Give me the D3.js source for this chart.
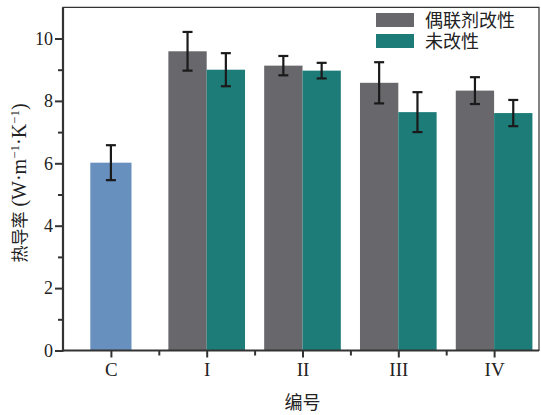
<!DOCTYPE html>
<html>
<head>
<meta charset="utf-8">
<script src="https://cdn.jsdelivr.net/npm/d3@7"></script>
<style>
  body { margin: 0; background: #fff; }
  text { font-family: "Liberation Serif", "Noto Sans CJK SC", serif; fill: #222; }
</style>
</head>
<body>
<svg id="chart" width="541" height="415"></svg>
<script>
// data
var categories = ['C', 'I', 'II', 'III', 'IV'];
var controlValue = [6.02];
var controlErr = [0.56];
var coupledValues = [null, 9.59, 9.13, 8.58, 8.33];
var coupledErr = [null, 0.62, 0.31, 0.66, 0.43];
var plainValues = [null, 9.0, 8.97, 7.64, 7.61];
var plainErr = [null, 0.53, 0.25, 0.64, 0.42];
var yTicks = [0, 2, 4, 6, 8, 10];
var yMinor = [1, 3, 5, 7, 9];
var seriesNames = ['偶联剂改性', '未改性'];

var svg = d3.select('#chart');
var W = 541, H = 415;
var colors = { control: '#6890bf', coupled: '#67676c', plain: '#1e7c78' };

var x = d3.scaleLinear().domain([-0.5, 4.5]).range([63, 542]);
var y = d3.scaleLinear().domain([0, 11]).range([350.5, 7.3]);
var bw = 0.4;

var g = svg.append('g');

// bars
var bars = [];
bars.push({ i: 0, v: controlValue[0], e: controlErr[0], x0: -0.215, x1: 0.215, c: colors.control });
for (var i = 1; i < categories.length; i++) {
    bars.push({ i: i, v: coupledValues[i], e: coupledErr[i], x0: -bw, x1: 0, c: colors.coupled });
    bars.push({ i: i, v: plainValues[i], e: plainErr[i], x0: 0, x1: bw, c: colors.plain });
}

g.selectAll('rect.bar').data(bars).enter().append('rect')
    .attr('class', 'bar')
    .attr('x', function (d) { return x(d.i + d.x0); })
    .attr('width', function (d) { return x(d.i + d.x1) - x(d.i + d.x0); })
    .attr('y', function (d) { return y(d.v); })
    .attr('height', function (d) { return y(0) - y(d.v); })
    .style('fill', function (d) { return d.c; });

// error bars
var eb = g.selectAll('g.err').data(bars).enter().append('g').attr('class', 'err')
    .attr('transform', function (d) { return 'translate(' + x(d.i + (d.x0 + d.x1) / 2) + ',0)'; });
eb.append('line')
    .attr('y1', function (d) { return y(d.v + d.e); })
    .attr('y2', function (d) { return y(d.v - d.e); })
    .style('stroke', '#1a1a1a').style('stroke-width', 2.2);
eb.append('line').attr('x1', -5).attr('x2', 5)
    .attr('y1', function (d) { return y(d.v + d.e); })
    .attr('y2', function (d) { return y(d.v + d.e); })
    .style('stroke', '#1a1a1a').style('stroke-width', 2.2);
eb.append('line').attr('x1', -5).attr('x2', 5)
    .attr('y1', function (d) { return y(d.v - d.e); })
    .attr('y2', function (d) { return y(d.v - d.e); })
    .style('stroke', '#1a1a1a').style('stroke-width', 2.2);

// frame
var fx0 = x(-0.5), fx1 = W - 2, fy0 = y(11), fy1 = y(0);
g.append('path')
    .attr('d', 'M' + fx0 + ',' + fy1 + 'V' + fy0 + 'H' + fx1 + 'V' + fy1 + 'Z')
    .style('fill', 'none').style('stroke', '#333').style('stroke-width', 1.2);
g.append('line').attr('x1', fx0).attr('x2', fx0).attr('y1', fy0).attr('y2', fy1 + 1)
    .style('stroke', '#333').style('stroke-width', 2.2);
g.append('line').attr('x1', fx0 - 1).attr('x2', fx1).attr('y1', fy1).attr('y2', fy1)
    .style('stroke', '#333').style('stroke-width', 2.2);

// y axis
var yAxis = d3.axisLeft(y).tickValues(yTicks).tickSize(8).tickPadding(2).tickFormat(d3.format('d'));
var ya = g.append('g').attr('transform', 'translate(' + fx0 + ',0)').call(yAxis);
ya.select('.domain').remove();
ya.selectAll('line').style('stroke', '#333').style('stroke-width', 2);
ya.selectAll('text').style('font-size', '18px').style('fill', '#222')
    .style('font-family', '"Liberation Serif", serif');
var yam = g.append('g').attr('transform', 'translate(' + fx0 + ',0)')
    .call(d3.axisLeft(y).tickValues(yMinor).tickSize(5).tickFormat(''));
yam.select('.domain').remove();
yam.selectAll('line').style('stroke', '#333').style('stroke-width', 2);

// x axis
var xa = g.append('g').attr('transform', 'translate(0,' + fy1 + ')')
    .call(d3.axisBottom(x).tickValues(d3.range(categories.length)).tickSize(7).tickPadding(5)
        .tickFormat(function (d) { return categories[d]; }));
xa.select('.domain').remove();
xa.selectAll('line').style('stroke', '#333').style('stroke-width', 2);
xa.selectAll('text').style('font-size', '19px').style('fill', '#222')
    .style('font-family', '"Liberation Serif", serif');
var xam = g.append('g').attr('transform', 'translate(0,' + fy1 + ')')
    .call(d3.axisBottom(x).tickValues([0.5, 1.5, 2.5, 3.5]).tickSize(5).tickFormat(''));
xam.select('.domain').remove();
xam.selectAll('line').style('stroke', '#333').style('stroke-width', 2);

// axis titles
g.append('text').attr('x', x(2)).attr('y', 409).attr('text-anchor', 'middle')
    .style('font-size', '18px').text('编号');
var yl = g.append('text').attr('transform', 'translate(26,183) rotate(-90)')
    .attr('text-anchor', 'middle').style('font-size', '20px');
var serif = '"Liberation Serif", serif';
yl.append('tspan').style('font-size', '17px').style('font-family', '"Noto Sans CJK SC", sans-serif').text('热导率');
yl.append('tspan').style('font-family', serif).text(' (W·m');
yl.append('tspan').attr('dy', -7).style('font-family', serif).style('font-size', '13px').text('−1');
yl.append('tspan').attr('dy', 7).style('font-family', serif).text('·K');
yl.append('tspan').attr('dy', -7).style('font-family', serif).style('font-size', '13px').text('−1');
yl.append('tspan').attr('dy', 7).style('font-family', serif).text(')');

// legend
var legend = g.append('g').attr('transform', 'translate(376,13)');
var li = legend.selectAll('g').data(seriesNames).enter().append('g')
    .attr('transform', function (d, i) { return 'translate(0,' + (i * 21) + ')'; });
li.append('rect').attr('width', 38).attr('height', 14)
    .style('fill', function (d, i) { return i === 0 ? colors.coupled : colors.plain; });
li.append('text').attr('x', 49).attr('y', 14).style('font-size', '18px')
    .style('font-family', '"Liberation Serif", "Noto Sans CJK SC", serif').text(function (d) { return d; });
</script>
</body>
</html>
